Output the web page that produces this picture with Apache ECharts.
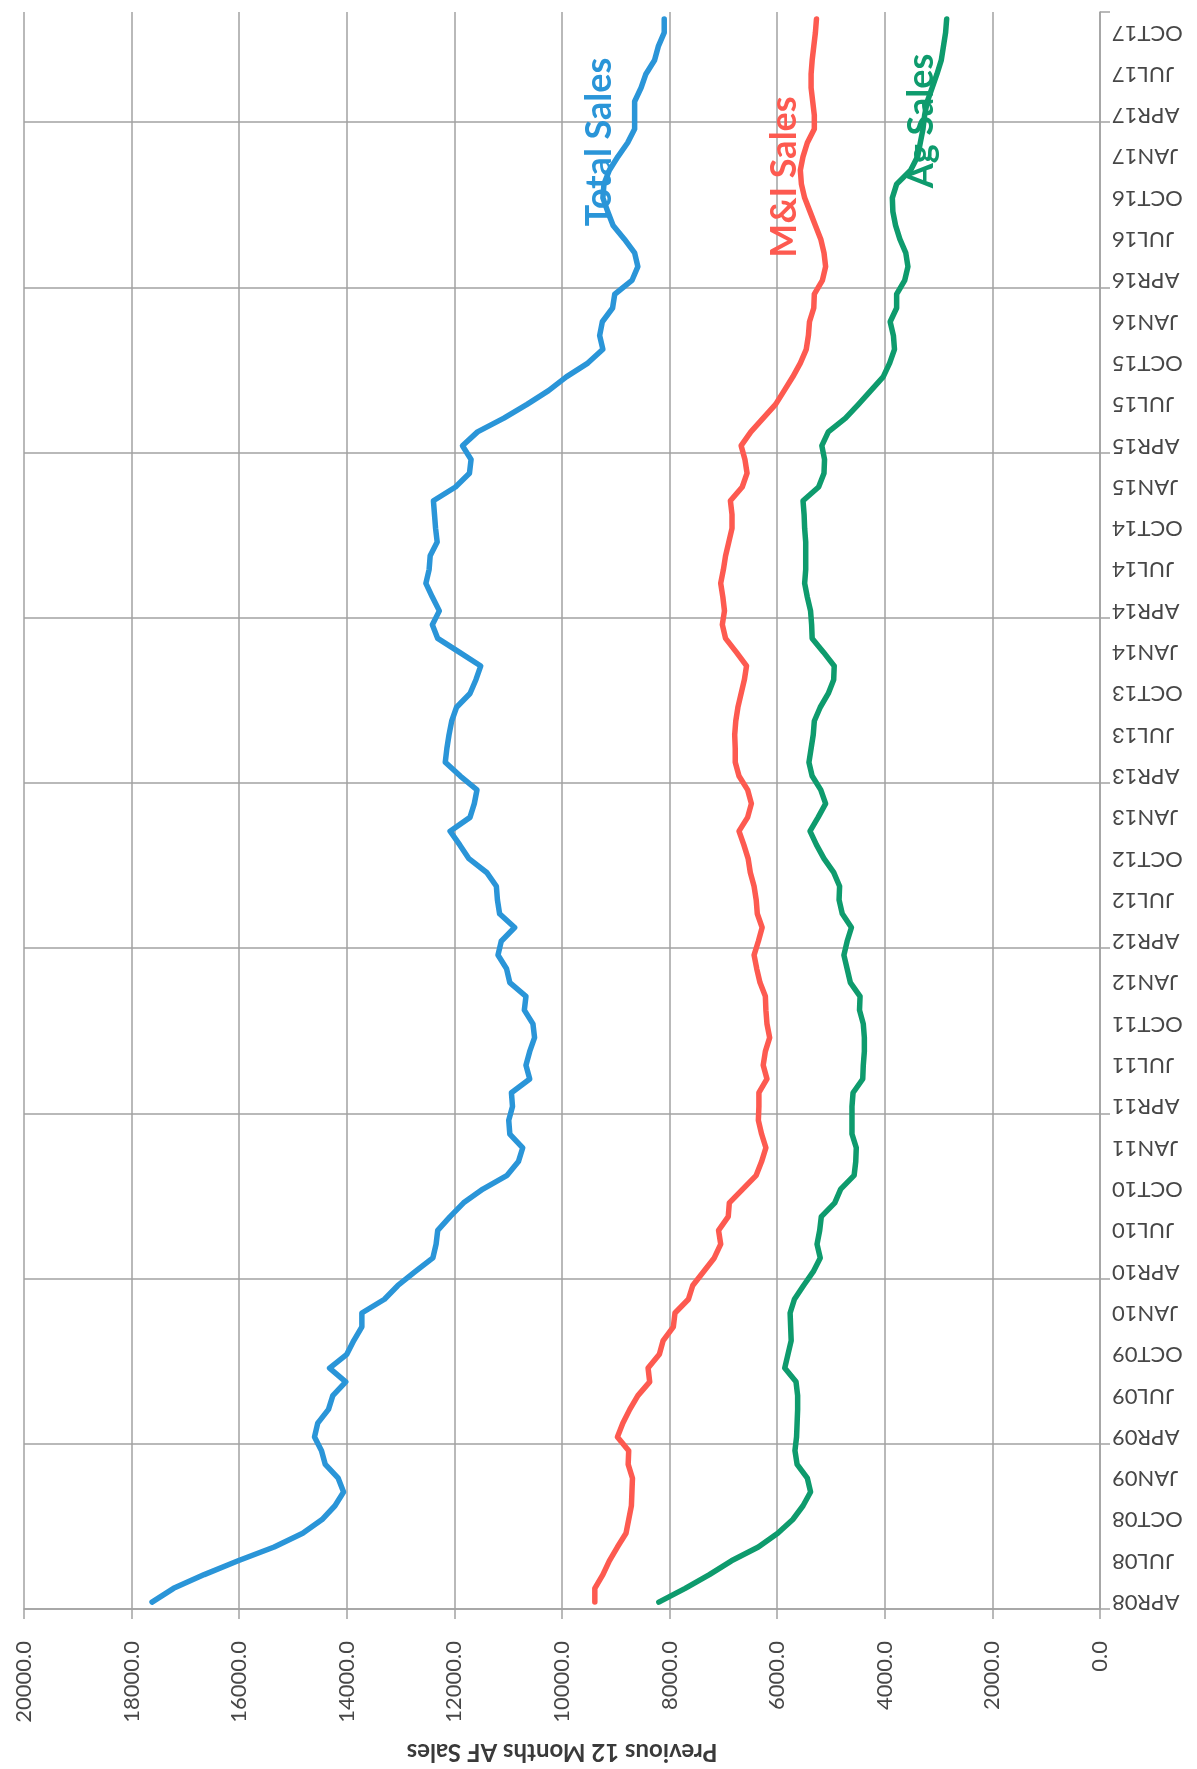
<!DOCTYPE html>
<html>
<head>
<meta charset="utf-8">
<script src="https://cdn.jsdelivr.net/npm/echarts@6/dist/echarts.min.js"></script>
<style>
  html, body { margin: 0; padding: 0; background: #ffffff; }
  #chart { width: 1197px; height: 1769px; }
</style>
</head>
<body>
<div id="chart"></div>
<script>
// Monthly categories, APR08 through NOV17
const months = [
  'APR08','MAY08','JUN08','JUL08','AUG08','SEP08','OCT08','NOV08','DEC08','JAN09','FEB09','MAR09',
  'APR09','MAY09','JUN09','JUL09','AUG09','SEP09','OCT09','NOV09','DEC09','JAN10','FEB10','MAR10',
  'APR10','MAY10','JUN10','JUL10','AUG10','SEP10','OCT10','NOV10','DEC10','JAN11','FEB11','MAR11',
  'APR11','MAY11','JUN11','JUL11','AUG11','SEP11','OCT11','NOV11','DEC11','JAN12','FEB12','MAR12',
  'APR12','MAY12','JUN12','JUL12','AUG12','SEP12','OCT12','NOV12','DEC12','JAN13','FEB13','MAR13',
  'APR13','MAY13','JUN13','JUL13','AUG13','SEP13','OCT13','NOV13','DEC13','JAN14','FEB14','MAR14',
  'APR14','MAY14','JUN14','JUL14','AUG14','SEP14','OCT14','NOV14','DEC14','JAN15','FEB15','MAR15',
  'APR15','MAY15','JUN15','JUL15','AUG15','SEP15','OCT15','NOV15','DEC15','JAN16','FEB16','MAR16',
  'APR16','MAY16','JUN16','JUL16','AUG16','SEP16','OCT16','NOV16','DEC16','JAN17','FEB17','MAR17',
  'APR17','MAY17','JUN17','JUL17','AUG17','SEP17','OCT17','NOV17'
];

// Previous 12 months AF sales
const totalSales = [
  17620,17220,16650,16020,15350,14820,14460,14220,14060,14160,14400,14470,
  14600,14540,14340,14260,14020,14320,14000,13870,13720,13720,13300,13050,
  12730,12400,12340,12310,12080,11830,11470,11020,10810,10730,10970,10990,
  10920,10940,10600,10670,10600,10510,10540,10700,10670,10970,11030,11190,
  11130,10880,11160,11200,11220,11400,11730,11900,12080,11710,11630,11580,
  11890,12170,12140,12100,12050,11960,11710,11600,11510,11910,12310,12410,
  12280,12410,12530,12470,12450,12320,12350,12370,12390,11980,11720,11690,
  11850,11570,11080,10650,10250,9920,9520,9240,9300,9250,9060,9020,
  8700,8590,8650,8840,9050,9150,9240,9220,9120,8960,8780,8650,
  8650,8650,8530,8440,8280,8210,8100,8100
];

const miSales = [
  9390,9390,9240,9120,8970,8810,8760,8710,8700,8690,8770,8760,
  8970,8870,8740,8590,8370,8400,8190,8120,7930,7900,7650,7570,
  7370,7170,7050,7090,6910,6890,6640,6390,6290,6210,6290,6350,
  6340,6340,6190,6260,6220,6140,6190,6210,6220,6320,6380,6430,
  6350,6280,6370,6390,6430,6500,6540,6620,6710,6550,6480,6550,
  6710,6780,6780,6790,6770,6730,6670,6610,6570,6760,6960,7020,
  6980,7010,7050,7000,6960,6900,6840,6840,6870,6650,6560,6600,
  6670,6490,6260,6030,5870,5710,5570,5460,5420,5400,5320,5310,
  5160,5100,5130,5190,5290,5390,5490,5550,5570,5520,5440,5310,
  5310,5340,5370,5370,5350,5320,5290,5270
];

const agSales = [
  8200,7710,7260,6850,6350,5990,5710,5520,5380,5440,5630,5670,
  5640,5630,5620,5620,5650,5860,5800,5740,5750,5760,5680,5510,
  5330,5200,5260,5210,5180,4930,4820,4570,4540,4530,4610,4610,
  4610,4590,4410,4400,4380,4380,4400,4470,4460,4640,4700,4760,
  4700,4620,4790,4850,4840,4950,5130,5270,5390,5240,5100,5190,
  5350,5410,5370,5330,5310,5200,5050,4950,4940,5140,5350,5360,
  5380,5440,5490,5470,5470,5470,5490,5500,5520,5230,5130,5120,
  5170,5050,4730,4490,4260,4030,3910,3820,3840,3900,3780,3780,
  3630,3570,3610,3720,3800,3850,3860,3780,3520,3390,3340,3290,
  3260,3210,3120,3030,2950,2910,2870,2850
];

// Value axis range and step
const valueMin = 0;
const valueMax = 20000;
const valueStep = 2000;

const seriesNames = ['Total Sales', 'M&I Sales', 'Ag Sales'];
const seriesColors = ['#2a95d8', '#fd5a50', '#0e9b6d'];

const gridColor = '#a2a2a2';
const labelColor = '#474747';
const fontFamily = 'Lato, "Open Sans", sans-serif';

const chart = echarts.init(document.getElementById('chart'), null, { renderer: 'canvas' });

function lineSeries(name, data, color) {
  return {
    name: name,
    type: 'line',
    data: data,
    showSymbol: false,
    symbol: 'none',
    smooth: false,
    animation: false,
    lineStyle: { width: 5.5, color: color, cap: 'round', join: 'round' },
    itemStyle: { color: color }
  };
}

chart.setOption({
  backgroundColor: '#ffffff',
  animation: false,
  grid: { left: 24, right: 97, top: 12, bottom: 158, containLabel: false },
  xAxis: {
    type: 'value',
    inverse: true,
    min: valueMin,
    max: valueMax,
    interval: valueStep,
    position: 'bottom',
    name: 'Previous 12 Months AF Sales',
    nameLocation: 'middle',
    nameRotate: 180,
    nameGap: 131,
    nameTextStyle: {
      fontFamily: fontFamily, fontSize: 24, fontWeight: 'bold', color: '#3a3a3a', lineHeight: 24
    },
    axisLine: { show: true, lineStyle: { color: gridColor, width: 1.5 } },
    axisTick: { show: true, length: 10, inside: false, lineStyle: { color: gridColor, width: 1.5 } },
    axisLabel: {
      rotate: 90,
      margin: 32,
      fontFamily: fontFamily,
      fontSize: 22,
      color: labelColor,
      formatter: function (v) { return v.toFixed(1); }
    },
    splitLine: { show: true, lineStyle: { color: gridColor, width: 1.5 } }
  },
  yAxis: {
    type: 'category',
    data: months,
    position: 'right',
    boundaryGap: true,
    axisLine: { show: true, onZero: false, lineStyle: { color: gridColor, width: 1.5 } },
    axisTick: {
      show: true, length: 10, inside: false,
      interval: function (index) { return index % 12 === 0; },
      lineStyle: { color: gridColor, width: 1.5 }
    },
    axisLabel: {
      interval: 2,
      rotate: 180,
      margin: 12,
      fontFamily: fontFamily,
      fontSize: 22,
      color: labelColor
    },
    splitLine: {
      show: true,
      showMaxLine: false,
      interval: function (index) { return index % 12 === 0; },
      lineStyle: { color: gridColor, width: 1.5 }
    }
  },
  series: [
    lineSeries(seriesNames[0], totalSales, seriesColors[0]),
    lineSeries(seriesNames[1], miSales, seriesColors[1]),
    lineSeries(seriesNames[2], agSales, seriesColors[2])
  ],
  graphic: [
    {
      type: 'text', x: 599, y: 142, rotation: Math.PI / 2, z: 10,
      style: { text: seriesNames[0], fill: seriesColors[0], fontFamily: 'Lato', fontSize: 36, fontWeight: 'bold', align: 'center', verticalAlign: 'middle' }
    },
    {
      type: 'text', x: 784, y: 177, rotation: Math.PI / 2, z: 10,
      style: { text: seriesNames[1], fill: seriesColors[1], fontFamily: 'Lato', fontSize: 36, fontWeight: 'bold', align: 'center', verticalAlign: 'middle' }
    },
    {
      type: 'text', x: 921, y: 121, rotation: Math.PI / 2, z: 1,
      style: { text: seriesNames[2], fill: seriesColors[2], fontFamily: 'Lato', fontSize: 36, fontWeight: 'bold', align: 'center', verticalAlign: 'middle' }
    }
  ]
});
</script>
</body>
</html>
